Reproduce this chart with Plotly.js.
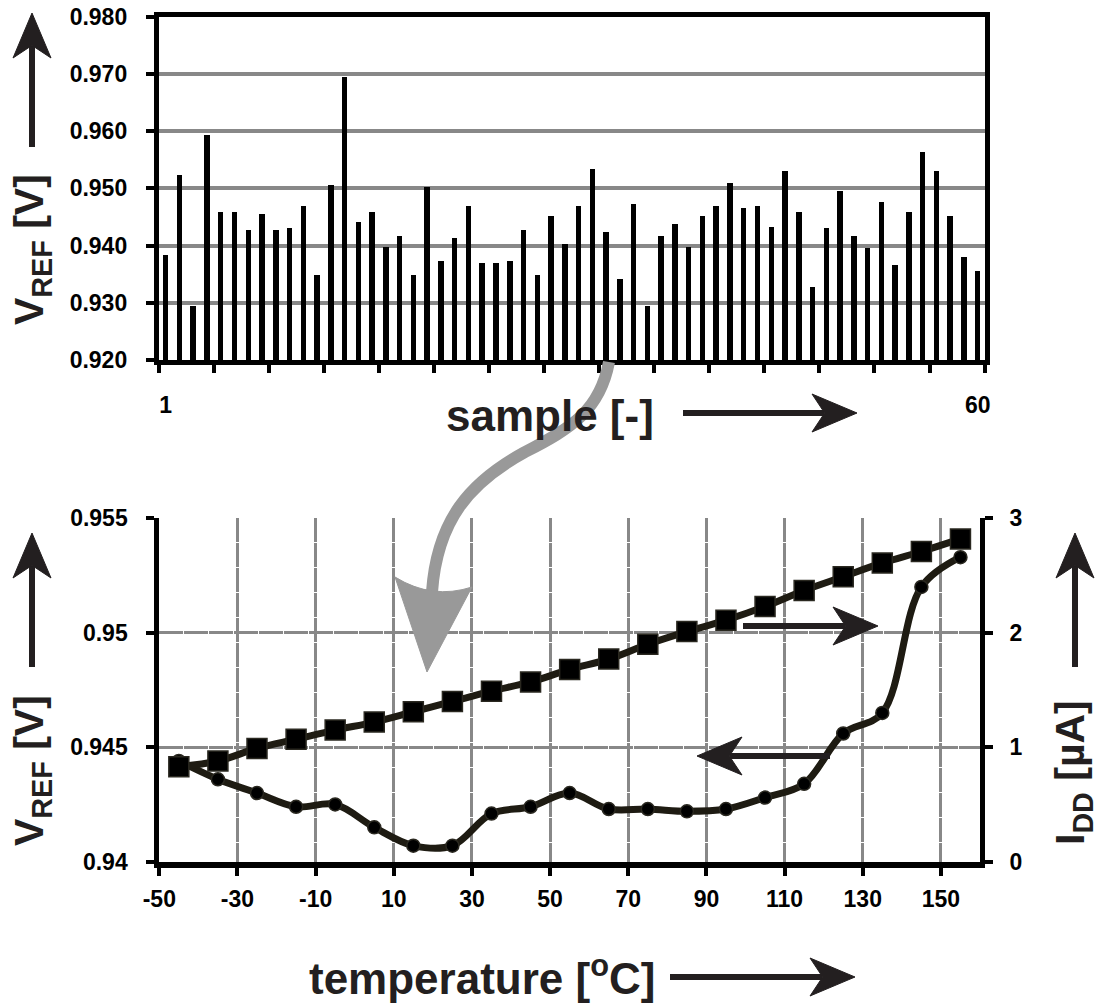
<!DOCTYPE html>
<html>
<head>
<meta charset="utf-8">
<script src="https://cdn.plot.ly/plotly-3.0.1.min.js"></script>
<style>html,body{margin:0;padding:0;background:#fff;}#chart{width:1105px;height:1005px;}</style>
</head>
<body>
<div id="chart"></div>
<script>
// ---------- data ----------
const sampleIndex = [1,2,3,4,5,6,7,8,9,10,11,12,13,14,15,16,17,18,19,20,21,22,23,24,25,26,27,28,29,30,
  31,32,33,34,35,36,37,38,39,40,41,42,43,44,45,46,47,48,49,50,51,52,53,54,55,56,57,58,59,60];
const sampleVref = [0.9384,0.9523,0.9295,0.9594,0.9459,0.9459,0.9427,0.9456,0.9427,0.9431,
  0.9469,0.9348,0.9505,0.9694,0.9441,0.9459,0.9398,0.9416,0.9348,0.9502,
  0.9373,0.9413,0.9469,0.9370,0.9370,0.9373,0.9427,0.9348,0.9451,0.9402,
  0.9469,0.9534,0.9423,0.9342,0.9473,0.9295,0.9416,0.9438,0.9398,0.9451,
  0.9469,0.9509,0.9466,0.9469,0.9433,0.9530,0.9459,0.9327,0.9431,0.9495,
  0.9416,0.9395,0.9476,0.9366,0.9459,0.9563,0.9530,0.9451,0.9380,0.9355];
const sampleTickVals = [1, 60];
const sampleTickText = ['1', '60'];

const temperature = [-45,-35,-25,-15,-5,5,15,25,35,45,55,65,75,85,95,105,115,125,135,145,155];
const tempVref = [0.9444,0.9436,0.9430,0.9424,0.9425,0.9415,0.9407,0.9407,0.9421,0.9424,
  0.9430,0.9423,0.9423,0.9422,0.9423,0.9428,0.9434,0.9456,0.9465,0.9520,0.9533];
const tempIdd = [0.83,0.88,0.99,1.07,1.15,1.22,1.31,1.40,1.49,1.57,
  1.68,1.77,1.90,2.01,2.11,2.23,2.37,2.49,2.61,2.71,2.82];
const tempTickVals = [-50,-30,-10,10,30,50,70,90,110,130,150];
const tempTickText = ['-50','-30','-10','10','30','50','70','90','110','130','150'];
const vrefTickVals = [0.94,0.945,0.95,0.955];
const vrefTickText = ['0.94','0.945','0.95','0.955'];
const iddTickVals = [0,1,2,3];

// ---------- helpers (decoration geometry in page pixels) ----------
const W = 1105, H = 1005;
const X = px => px / W;
const Y = py => 1 - py / H;
const INK = '#231f20';

function arrowShapes(tx, ty, sx, sy, color, width, headLen, headHalf) {
  const dx = tx - sx, dy = ty - sy, len = Math.hypot(dx, dy);
  const ux = dx / len, uy = dy / len, nx = -uy, ny = ux;
  const bx = tx - ux * headLen, by = ty - uy * headLen;
  const kx = tx - ux * headLen * 0.72, ky = ty - uy * headLen * 0.72;
  const c1 = [bx + nx * headHalf, by + ny * headHalf];
  const c2 = [bx - nx * headHalf, by - ny * headHalf];
  const p = (a, b) => X(a) + ',' + Y(b);
  return [
    {type: 'line', xref: 'paper', yref: 'paper', x0: X(sx), y0: Y(sy), x1: X(kx), y1: Y(ky),
     line: {color: color, width: width}},
    {type: 'path', xref: 'paper', yref: 'paper',
     path: 'M' + p(c1[0], c1[1]) + ' L' + p(tx, ty) + ' L' + p(c2[0], c2[1]) + ' L' + p(kx, ky) + ' Z',
     fillcolor: color, line: {color: color, width: 1}}
  ];
}

function pathPx(cmds) {
  return cmds.map(c => c[0] + c.slice(1).reduce((s, v, i) =>
    s + (i % 2 === 0 ? (i ? ' ' : '') + X(v) : ',' + Y(v)), '')).join(' ');
}

const GRAY = '#999999';
const shapes = [
  {type: 'path', xref: 'paper', yref: 'paper', layer: 'above',
   path: pathPx([['M', 609, 362], ['C', 600, 410, 572, 428, 525, 452], ['C', 470, 482, 437, 520, 432, 592]]),
   line: {color: GRAY, width: 12}, fillcolor: 'rgba(0,0,0,0)'},
  {type: 'path', xref: 'paper', yref: 'paper', layer: 'above',
   path: pathPx([['M', 395, 577], ['L', 427, 672], ['L', 472, 587], ['Q', 432, 600, 395, 577], ['Z']]),
   fillcolor: GRAY, line: {color: GRAY, width: 1}},
  ...arrowShapes(32, 13, 32, 147, INK, 6, 45, 19),
  ...arrowShapes(32, 533, 32, 667, INK, 6, 45, 19),
  ...arrowShapes(1075, 533, 1075, 667, INK, 6, 45, 19),
  ...arrowShapes(857, 413, 683, 413, INK, 6, 45, 19),
  ...arrowShapes(855, 977, 670, 977, INK, 6, 45, 19),
  ...arrowShapes(878, 626, 743, 626, INK, 6, 45, 19),
  ...arrowShapes(697, 756, 830, 756, INK, 6, 45, 19)
];

const titleFont = {family: 'Liberation Sans, Arial, sans-serif', size: 41, weight: 'bold', color: INK};
const annotations = [
  {xref: 'paper', yref: 'paper', x: X(32), y: Y(250), text: 'V<sub>REF</sub> [V]', textangle: -90,
   showarrow: false, xanchor: 'center', yanchor: 'middle', font: titleFont},
  {xref: 'paper', yref: 'paper', x: X(32), y: Y(771), text: 'V<sub>REF</sub> [V]', textangle: -90,
   showarrow: false, xanchor: 'center', yanchor: 'middle', font: titleFont},
  {xref: 'paper', yref: 'paper', x: X(1073), y: Y(773), text: 'I<sub>DD</sub> [µA]', textangle: -90,
   showarrow: false, xanchor: 'center', yanchor: 'middle', font: titleFont},
  {xref: 'paper', yref: 'paper', x: X(550), y: Y(415), text: 'sample [-]',
   showarrow: false, xanchor: 'center', yanchor: 'middle',
   font: {family: 'Liberation Sans, Arial, sans-serif', size: 44, weight: 'bold', color: INK}},
  {xref: 'paper', yref: 'paper', x: X(482), y: Y(975), text: 'temperature [<sup>o</sup>C]',
   showarrow: false, xanchor: 'center', yanchor: 'middle',
   font: {family: 'Liberation Sans, Arial, sans-serif', size: 44, weight: 'bold', color: INK}}
];

const tickFont = {family: 'Liberation Sans, Arial, sans-serif', size: 23, weight: 'bold', color: '#000'};
const GRID = '#888888';

const traces = [
  {type: 'bar', x: sampleIndex, y: sampleVref, xaxis: 'x', yaxis: 'y',
   marker: {color: '#000', line: {width: 0}}, width: 0.4, hoverinfo: 'x+y'},
  {type: 'scatter', mode: 'lines+markers', x: temperature, y: tempVref, xaxis: 'x2', yaxis: 'y2',
   line: {color: '#1e1b12', width: 7, shape: 'spline', smoothing: 1},
   marker: {symbol: 'circle', size: 13, color: '#000', line: {color: '#2a2820', width: 1.5}}},
  {type: 'scatter', mode: 'lines+markers', x: temperature, y: tempIdd, xaxis: 'x2', yaxis: 'y3',
   line: {color: '#1e1b12', width: 7, shape: 'spline', smoothing: 1},
   marker: {symbol: 'square', size: 20, color: '#000', line: {color: '#2a2820', width: 1.5}}}
];

const layout = {
  width: W, height: H,
  margin: {l: 0, r: 0, t: 0, b: 0},
  paper_bgcolor: '#fff', plot_bgcolor: '#fff',
  showlegend: false,
  bargap: 0,
  xaxis: {
    domain: [X(158.8), X(984.6)], anchor: 'y', range: [0.5, 60.5],
    tickmode: 'array', tickvals: sampleTickVals, ticktext: sampleTickText, ticks: '',
    ticklabelstandoff: 20,
    minor: {tickmode: 'linear', tick0: 0.5, dtick: 4, ticks: 'outside', ticklen: 8, tickwidth: 4,
            tickcolor: '#000', showgrid: false},
    showgrid: false, zeroline: false,
    showline: true, linecolor: '#000', linewidth: 5, mirror: true,
    tickfont: tickFont
  },
  yaxis: {
    domain: [Y(360), Y(16.7)], anchor: 'x', range: [0.92, 0.98],
    tick0: 0.92, dtick: 0.01, tickformat: '.3f',
    ticks: 'outside', ticklen: 8, tickwidth: 4, tickcolor: '#000', ticklabelstandoff: 14,
    showgrid: true, gridcolor: GRID, gridwidth: 4, zeroline: false,
    showline: true, linecolor: '#000', linewidth: 5, mirror: true,
    tickfont: tickFont
  },
  xaxis2: {
    domain: [X(159.3), X(980)], anchor: 'y2', range: [-50, 160],
    tickmode: 'array', tickvals: tempTickVals, ticktext: tempTickText,
    ticks: 'outside', ticklen: 8, tickwidth: 4, tickcolor: '#000', ticklabelstandoff: 4,
    showgrid: true, gridcolor: GRID, gridwidth: 3, griddash: '24px,1px', zeroline: false,
    showline: true, linecolor: '#000', linewidth: 6,
    tickfont: tickFont
  },
  yaxis2: {
    domain: [Y(861.7), Y(518.3)], anchor: 'x2', range: [0.94, 0.955],
    tickmode: 'array', tickvals: vrefTickVals, ticktext: vrefTickText,
    ticks: 'outside', ticklen: 8, tickwidth: 4, tickcolor: '#000', ticklabelstandoff: 14,
    showgrid: true, gridcolor: GRID, gridwidth: 3, griddash: '24px,1px', zeroline: false,
    showline: true, linecolor: '#000', linewidth: 5,
    tickfont: tickFont
  },
  yaxis3: {
    overlaying: 'y2', side: 'right', anchor: 'x2', range: [0, 3],
    tickmode: 'array', tickvals: iddTickVals,
    ticks: 'outside', ticklen: 8, tickwidth: 4, tickcolor: '#000', ticklabelstandoff: 12,
    showgrid: false, zeroline: false,
    showline: true, linecolor: '#000', linewidth: 5,
    tickfont: tickFont
  },
  shapes: shapes,
  annotations: annotations
};

Plotly.newPlot('chart', traces, layout, {displayModeBar: false, staticPlot: true});
</script>
</body>
</html>
